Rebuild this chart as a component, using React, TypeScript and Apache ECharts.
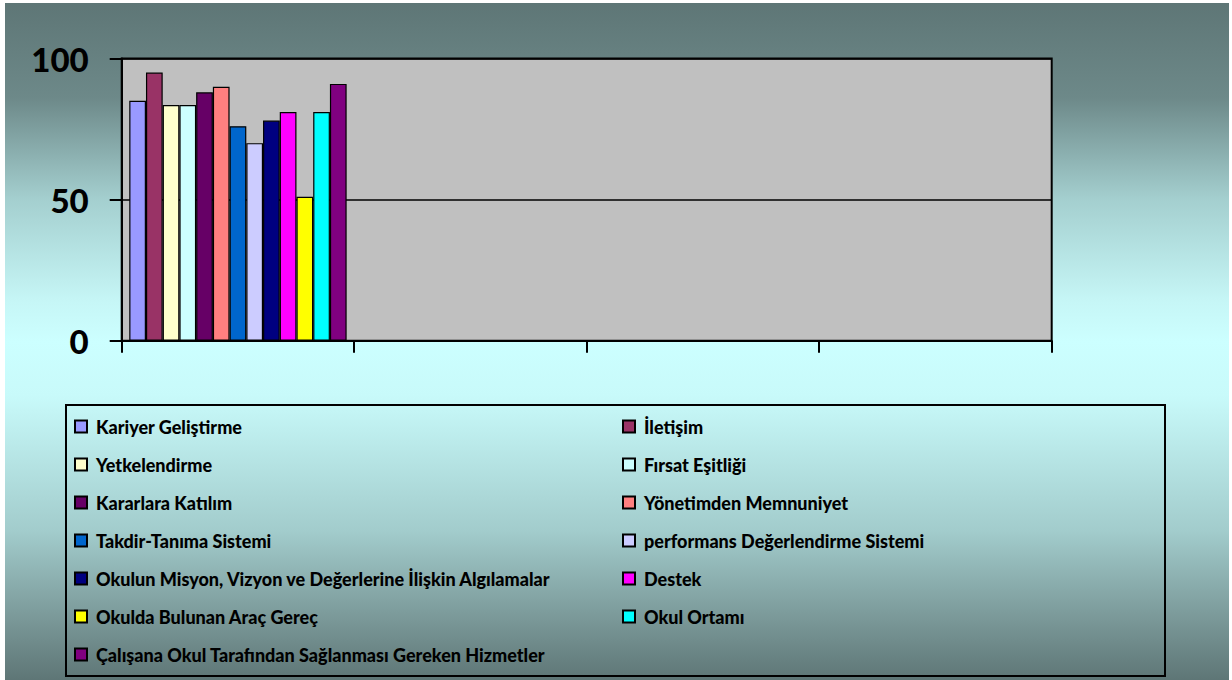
import React, { useEffect, useRef } from "react";
import * as echarts from "echarts";

const categories = ["", "", "", ""];
const seriesNames = [
  "Kariyer Geliştirme",
  "İletişim",
  "Yetkelendirme",
  "Fırsat Eşitliği",
  "Kararlara Katılım",
  "Yönetimden Memnuniyet",
  "Takdir-Tanıma Sistemi",
  "performans Değerlendirme Sistemi",
  "Okulun Misyon, Vizyon ve Değerlerine İlişkin Algılamalar",
  "Destek",
  "Okulda Bulunan Araç Gereç",
  "Okul Ortamı",
  "Çalışana Okul Tarafından Sağlanması Gereken Hizmetler",
];
const seriesValues = [85, 95, 83.5, 83.5, 88, 90, 76, 70, 78, 81, 51, 81, 91];
const seriesColors = [
  "#9999FF",
  "#993366",
  "#FFFFCC",
  "#CCFFFF",
  "#660066",
  "#FF8080",
  "#0066CC",
  "#CCCCFF",
  "#000080",
  "#FF00FF",
  "#FFFF00",
  "#00FFFF",
  "#800080",
];
const yTicks = [0, 50, 100];

const FONT = "Lato, 'Open Sans', 'Liberation Sans', sans-serif";

export default function App() {
  const ref = useRef<HTMLDivElement>(null);

  useEffect(() => {
    if (!ref.current) return;
    const chart = echarts.init(ref.current, undefined, { renderer: "svg" });

    const series = seriesNames.map((name, i) => ({
      name,
      type: "bar",
      data: [seriesValues[i]],
      barGap: "0%",
      barCategoryGap: "6.5%",
      itemStyle: { color: seriesColors[i], borderColor: "#000", borderWidth: 1.2 },
    }));

    const legendCommon = {
      orient: "vertical",
      icon: "rect",
      itemWidth: 12,
      itemHeight: 12,
      itemGap: 0,
      padding: 0,
      selectedMode: false,
      textStyle: {
        fontFamily: FONT,
        fontWeight: 900,
        fontSize: 18,
        color: "#000",
        lineHeight: 38,
        padding: [0, 0, 0, 4],
      },
    };

    chart.setOption({
      animation: false,
      backgroundColor: "transparent",
      grid: {
        left: 121.7,
        right: 180.3,
        top: 58.5,
        bottom: 680 - 340.7,
        show: true,
        backgroundColor: "#C0C0C0",
        borderColor: "#000",
        borderWidth: 2,
        containLabel: false,
      },
      legend: [
        {
          ...legendCommon,
          left: 74,
          top: 407.5,
          data: seriesNames.filter((_, i) => i % 2 === 0),
        },
        {
          ...legendCommon,
          left: 622,
          top: 407.5,
          data: seriesNames.filter((_, i) => i % 2 === 1),
        },
      ],
      xAxis: {
        type: "category",
        data: categories,
        boundaryGap: true,
        axisLine: { show: true, lineStyle: { color: "#000", width: 2 } },
        axisTick: { show: true, length: 12, lineStyle: { color: "#000", width: 2 } },
        axisLabel: { show: false },
        splitLine: { show: false },
      },
      yAxis: {
        type: "value",
        min: yTicks[0],
        max: yTicks[yTicks.length - 1],
        interval: 50,
        axisLine: { show: true, lineStyle: { color: "#000", width: 2 } },
        axisTick: { show: true, length: 12, lineStyle: { color: "#000", width: 2 } },
        axisLabel: {
          show: true,
          margin: 33,
          fontFamily: FONT,
          fontWeight: 900,
          fontSize: 33,
          color: "#000",
        },
        splitLine: { show: true, lineStyle: { color: "#000", width: 1.5 } },
      },
      graphic: [
        {
          type: "rect",
          shape: { x: 66, y: 405, width: 1099, height: 271 },
          style: { fill: "none", stroke: "#000", lineWidth: 2 },
          silent: true,
        },
      ],
      series,
    });

    return () => chart.dispose();
  }, []);

  return (
    <div
      style={{
        position: "fixed",
        left: 0,
        top: 0,
        width: 1232,
        height: 680,
        background: "#FFFFFF",
        overflow: "hidden",
      }}
    >
      <div
        style={{
          position: "absolute",
          left: 5,
          top: 3,
          width: 1224,
          height: 677,
          background:
            "linear-gradient(to bottom, #5E7676 0%, #6D8989 14%, #A4CFCF 29%, #C6F6F6 44%, #CCFFFF 50%, #C8FAFA 58%, #A2CCCC 78%, #7A9898 91%, #5E7676 100%)",
        }}
      />
      <div
        ref={ref}
        style={{ position: "absolute", left: 0, top: 0, width: 1232, height: 680 }}
      />
    </div>
  );
}
